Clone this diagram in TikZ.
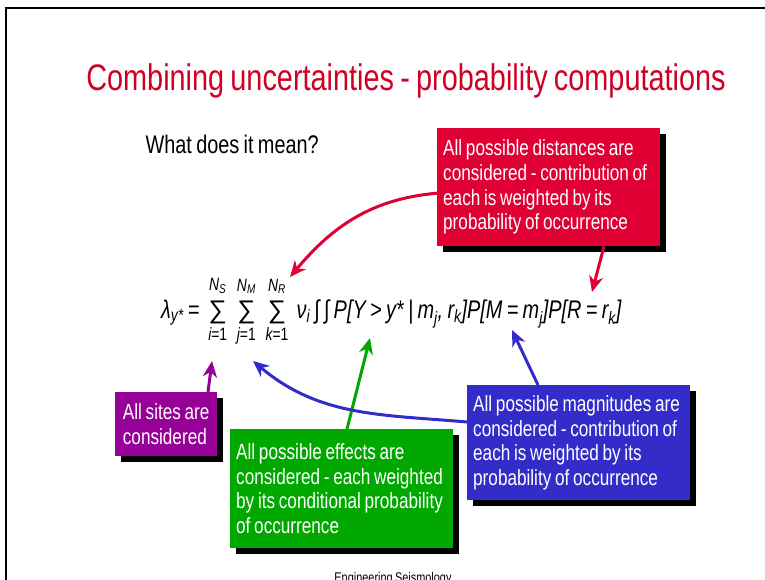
\documentclass[tikz,border=0pt]{standalone}
\usepackage{fontspec}
\usepackage{amsmath}
\setmainfont{Liberation Sans}[FakeStretch=0.78,WordSpace=0.78]
\newfontfamily\sumfont{Liberation Sans}
\usetikzlibrary{arrows.meta,shadows}
\definecolor{tred}{RGB}{208,0,36}
\definecolor{bred}{RGB}{224,0,52}
\definecolor{bpurple}{RGB}{150,0,150}
\definecolor{bgreen}{RGB}{0,168,0}
\definecolor{bblue}{RGB}{52,44,200}
\newcommand\ti[1]{\text{\itshape #1}}
\newcommand\sumx[2]{\mathop{\text{\sumfont\rule{0pt}{0.84em}∑}}\limits_{#2}^{#1}}
\tikzset{
  cbox/.style={text=white, anchor=north west, inner xsep=6pt, inner ysep=0pt,
    align=flush left, font=\fontsize{22}{24.7}\selectfont,
    drop shadow={shadow xshift=6pt, shadow yshift=-6pt, fill=black, opacity=1}},
  arr/.style={line width=3pt, -{Stealth[length=16pt,width=14pt,inset=5pt]}},
}
\hyphenpenalty=10000
\exhyphenpenalty=10000
\begin{document}
\begin{tikzpicture}[x=1pt,y=-1pt]
\useasboundingbox (0,0) rectangle (765,579);
\fill[white] (0,0) rectangle (765,579);
\draw[line width=2.5pt] (6,600) -- (6,8) -- (780,8);
\node[font=\fontsize{37}{40}\selectfont, text=tred, anchor=base] (title) at (406,90)
  {Combining uncertainties - probability computations};
\node[font=\fontsize{25.5}{28}\selectfont, anchor=base west] (q) at (142,153) {What does it mean?};
\node[font=\fontsize{25.5}{30}\selectfont, anchor=base west, inner sep=0pt] (f) at (161,318)
  {$\ti{λ}_{\ti{y*}}\text{ = }\sumx{\ti{N}_{\ti{S}}}{\ti{i}\text{=1}}\mkern4mu\sumx{\ti{N}_{\ti{M}}}{\ti{j}\text{=1}}\mkern4mu\sumx{\ti{N}_{\ti{R}}}{\ti{k}\text{=1}}\,\ti{ν}_{\ti{i}}\,\ti{∫\,∫\,P[Y > y* | m}_{\ti{j}}\ti{, r}_{\ti{k}}\ti{]P[M = m}_{\ti{j}}\ti{]P[R = r}_{\ti{k}}\ti{]}$};
\node[cbox, fill=bred, text width=211pt, minimum height=118pt] (red) at (437,128)
  {All possible distances are\\considered - contribution of\\each is weighted by its\\probability of occurrence};
\node[cbox, fill=bblue, text width=211pt, minimum height=115pt] (blue) at (467,385)
  {All possible magnitudes are\\considered - contribution of\\each is weighted by its\\probability of occurrence};
\node[cbox, fill=bgreen, text width=211pt, minimum height=119pt] (green) at (230,429)
  {All possible effects are\\considered - each weighted\\by its conditional probability\\of occurrence};
\node[cbox, fill=bpurple, inner xsep=7pt, minimum width=102pt, minimum height=64pt] (purple) at (115,392)
  {All sites are\\considered};
\coordinate (tR1) at (290,277);
\coordinate (tR2) at (592,292);
\coordinate (tP) at (212,361);
\coordinate (tG) at (370,338);
\coordinate (tB1) at (253,361);
\coordinate (tB2) at (512,330);
\draw[arr, bred] ([yshift=-6pt]red.west) to[out=185,in=50] (tR1);
\draw[arr, bred] ([xshift=167pt]red.south west) -- (tR2);
\draw[arr, bpurple] ([xshift=93pt]purple.north west) -- (tP);
\draw[arr, bgreen] ([xshift=117pt]green.north west) -- (tG);
\draw[arr, bblue] ([yshift=-37pt]blue.north west) to[out=175,in=-40] (tB1);
\draw[arr, bblue] ([xshift=71pt]blue.north west) -- (tB2);
\node[font=\fontsize{14}{16}\selectfont, anchor=base] (foot) at (393,582) {Engineering Seismology};
\end{tikzpicture}
\end{document}
